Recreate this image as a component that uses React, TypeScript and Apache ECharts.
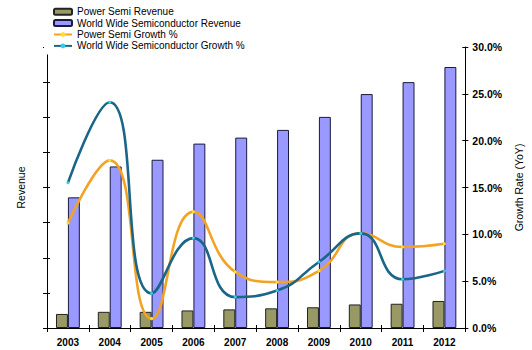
import React, { useEffect, useRef } from "react";
import * as echarts from "echarts";

const years = ["2003", "2004", "2005", "2006", "2007", "2008", "2009", "2010", "2011", "2012"];
const powerSemiRevenue = [0.4, 0.46, 0.46, 0.5, 0.53, 0.56, 0.59, 0.67, 0.69, 0.77];
const worldWideRevenue = [3.72, 4.6, 4.79, 5.25, 5.42, 5.64, 6.01, 6.66, 7.0, 7.43];
const powerSemiGrowth = [11.2, 17.9, 1.0, 12.4, 6.0, 4.9, 6.1, 10.1, 8.65, 9.0];
const worldWideGrowth = [15.5, 24.1, 3.7, 9.6, 3.3, 4.0, 7.05, 10.1, 5.2, 6.1];

const FONT = "Liberation Sans, Arial, sans-serif";

export default function App() {
  const ref = useRef<HTMLDivElement>(null);
  useEffect(() => {
    if (!ref.current) return;
    const chart = echarts.init(ref.current, null, { renderer: "svg" });
    const axisLine = { show: true, lineStyle: { color: "#000", width: 1 } };
    chart.setOption({
      animation: false,
      backgroundColor: "#fff",
      textStyle: { fontFamily: FONT },
      grid: { left: 47, right: 63, top: 47, bottom: 22 },
      legend: {
        orient: "vertical",
        left: 44,
        top: 3,
        padding: [3, 6, 3, 9],
        backgroundColor: "#fff",
        itemWidth: 18,
        itemHeight: 6,
        itemGap: 0,
        z: 10,
        textStyle: { fontSize: 10, color: "#000", fontFamily: FONT, lineHeight: 11.4 },
        data: [
          "Power Semi Revenue",
          "World Wide Semiconductor Revenue",
          "Power Semi Growth %",
          "World Wide Semiconductor Growth %",
        ],
      },
      xAxis: [
        {
          type: "category",
          data: years,
          position: "bottom",
          axisLine,
          axisTick: { show: true, length: 4, lineStyle: { color: "#000" } },
          axisLabel: { fontSize: 10, fontWeight: "bold", color: "#000", margin: 9, fontFamily: FONT },
          splitLine: { show: false },
        },
        {
          type: "category",
          data: years,
          position: "bottom",
          axisLine: { show: false },
          axisTick: { show: true, inside: true, length: 3, lineStyle: { color: "#000" } },
          axisLabel: { show: false },
          splitLine: { show: false },
        },
      ],
      yAxis: [
        {
          type: "value",
          min: 0,
          max: 8,
          interval: 1,
          position: "left",
          name: "Revenue",
          nameLocation: "middle",
          nameRotate: 90,
          nameGap: 21,
          nameTextStyle: { fontSize: 10.5, color: "#000", fontFamily: FONT },
          axisLine,
          axisTick: { show: true, length: 4, lineStyle: { color: "#000" } },
          axisLabel: { show: false },
          splitLine: { show: false },
        },
        {
          type: "value",
          min: 0,
          max: 30,
          interval: 5,
          position: "right",
          name: "Growth Rate (YoY)",
          nameLocation: "middle",
          nameRotate: 90,
          nameGap: 42,
          nameTextStyle: { fontSize: 10.5, color: "#000", fontFamily: FONT },
          axisLine,
          axisTick: { show: true, length: 3, lineStyle: { color: "#000" } },
          axisLabel: {
            fontSize: 10.5,
            fontWeight: "bold",
            color: "#000",
            margin: 7,
            fontFamily: FONT,
            formatter: (v: number) => v.toFixed(1) + "%",
          },
          splitLine: { show: false },
        },
        {
          type: "value",
          min: 0,
          max: 8,
          interval: 1,
          position: "left",
          axisLine: { show: false },
          axisTick: { show: true, inside: true, length: 3, lineStyle: { color: "#000" } },
          axisLabel: { show: false },
          splitLine: { show: false },
        },
        {
          type: "value",
          min: 0,
          max: 30,
          interval: 5,
          position: "right",
          axisLine: { show: false },
          axisTick: { show: true, inside: true, length: 3, lineStyle: { color: "#000" } },
          axisLabel: { show: false },
          splitLine: { show: false },
        },
      ],
      series: [
        {
          name: "Power Semi Revenue",
          type: "bar",
          data: powerSemiRevenue,
          barGap: "0%",
          barCategoryGap: "43%",
          itemStyle: { color: "#999966", borderColor: "#222222", borderWidth: 1 },
        },
        {
          name: "World Wide Semiconductor Revenue",
          type: "bar",
          data: worldWideRevenue,
          barGap: "0%",
          barCategoryGap: "43%",
          itemStyle: { color: "#9999ff", borderColor: "#1a1a40", borderWidth: 1 },
        },
        {
          name: "Power Semi Growth %",
          type: "line",
          yAxisIndex: 1,
          data: powerSemiGrowth,
          smooth: 0.5,
          symbol: "circle",
          symbolSize: 3,
          showSymbol: true,
          lineStyle: { color: "#f2a324", width: 2.6 },
          itemStyle: { color: "#ffdd33" },
          z: 5,
        },
        {
          name: "World Wide Semiconductor Growth %",
          type: "line",
          yAxisIndex: 1,
          data: worldWideGrowth,
          smooth: 0.5,
          symbol: "circle",
          symbolSize: 3,
          showSymbol: true,
          lineStyle: { color: "#1a6688", width: 2.6 },
          itemStyle: { color: "#33ccee" },
          z: 6,
        },
      ],
    });
    return () => chart.dispose();
  }, []);
  return <div ref={ref} style={{ width: 532, height: 350, position: "absolute", left: 0, top: 0 }} />;
}
